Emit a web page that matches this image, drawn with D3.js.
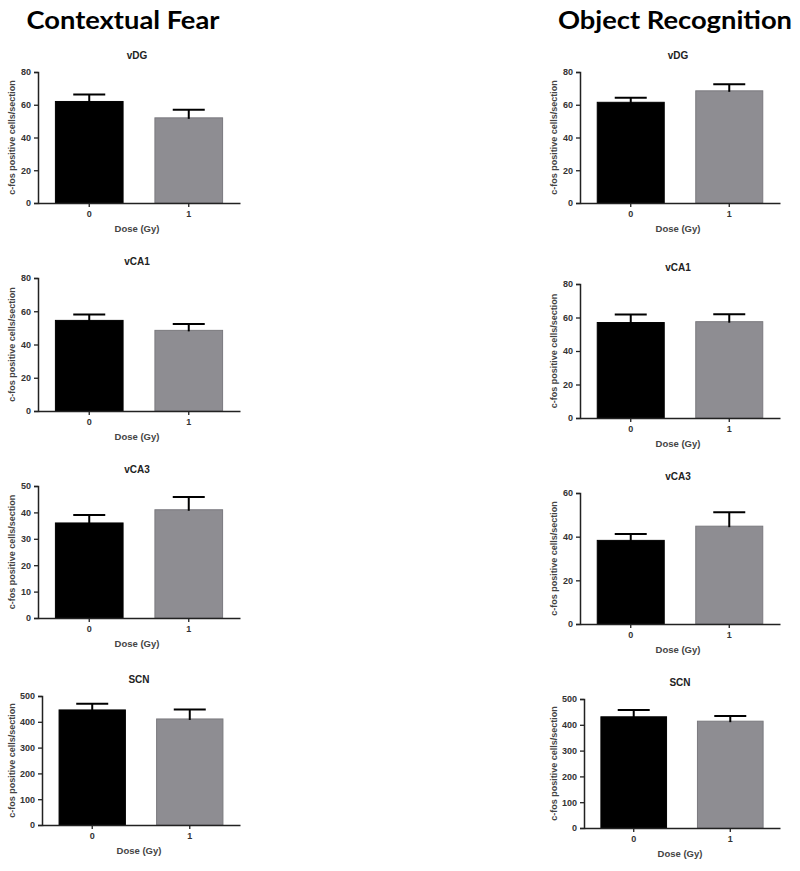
<!DOCTYPE html>
<html>
<head>
<meta charset="utf-8">
<script src="https://cdn.jsdelivr.net/npm/d3@7"></script>
<style>
  html, body { margin: 0; padding: 0; background: #fff; }
  svg { display: block; }
</style>
</head>
<body>
<svg id="chart" width="800" height="871"></svg>
<script>
// ---- data ----
const doses = ["0", "1"];
const regions = ["vDG", "vCA1", "vCA3", "SCN"];
const columnTitles = ["Contextual Fear", "Object Recognition"];

const fearMeans = [[62, 52], [54.5, 48.5], [36, 41], [446, 411]];
const fearSEM   = [[4.2, 5], [3.5, 3.8], [3, 4.8], [24, 37]];
const fearYMax  = [80, 80, 50, 500];
const fearTicks = [[0, 20, 40, 60, 80], [0, 20, 40, 60, 80], [0, 10, 20, 30, 40, 50], [0, 100, 200, 300, 400, 500]];

const objMeans = [[61.5, 68.5], [57, 57.5], [38.3, 44.8], [431, 414]];
const objSEM   = [[2.7, 4], [4.8, 4.5], [2.9, 6.4], [26, 20]];
const objYMax  = [80, 80, 60, 500];
const objTicks = [[0, 20, 40, 60, 80], [0, 20, 40, 60, 80], [0, 20, 40, 60], [0, 100, 200, 300, 400, 500]];

const yLabel = "c-fos positive cells/section";
const xLabel = "Dose (Gy)";
const barColors = ["#000000", "#8e8d92"];

// ---- layout (pixel geometry, not data) ----
const columns = [
  { title: columnTitles[0], titleX: 123, titleW: 193, means: fearMeans, sem: fearSEM, ymax: fearYMax, ticks: fearTicks,
    axisX: [38, 38, 38, 42], xEnd: 240, labelX: 13,
    yTop: [72, 278, 486, 696], yBot: [203, 411, 618, 825] },
  { title: columnTitles[1], titleX: 675, titleW: 234, means: objMeans, sem: objSEM, ymax: objYMax, ticks: objTicks,
    axisX: [580, 580, 580, 584], xEnd: 780, labelX: 555,
    yTop: [72, 284, 493, 699], yBot: [203, 418, 624, 828] }
];

const svg = d3.select("#chart");
const sans = "Liberation Sans, Arial, sans-serif";

columns.forEach(col => {
  svg.append("text")
    .attr("x", col.titleX).attr("y", 29)
    .attr("text-anchor", "middle")
    .attr("font-family", "Lato, 'Open Sans', sans-serif")
    .attr("font-weight", "bold")
    .attr("font-size", 25)
    .attr("textLength", col.titleW)
    .attr("lengthAdjust", "spacingAndGlyphs")
    .attr("fill", "#000")
    .text(col.title);

  regions.forEach((reg, i) => {
    const ax = col.axisX[i];
    const y = d3.scaleLinear().domain([0, col.ymax[i]]).range([col.yBot[i], col.yTop[i]]);
    const x = d3.scaleBand().domain(doses).range([ax, col.xEnd]).paddingInner(0.32).paddingOuter(0.175);
    const g = svg.append("g");

    // panel title
    g.append("text")
      .attr("x", (ax + col.xEnd) / 2 - 2).attr("y", col.yTop[i] - 13)
      .attr("text-anchor", "middle")
      .attr("font-family", sans)
      .attr("font-weight", "bold").attr("font-size", 10)
      .attr("fill", "#222")
      .text(reg);

    // bars
    g.selectAll("rect.bar").data(doses).enter().append("rect")
      .attr("class", "bar")
      .attr("x", d => x(d))
      .attr("width", x.bandwidth())
      .attr("y", (d, j) => y(col.means[i][j]))
      .attr("height", (d, j) => y(0) - y(col.means[i][j]))
      .attr("fill", (d, j) => barColors[j])
      .attr("stroke", (d, j) => j === 0 ? "#000" : "#7a797e")
      .attr("stroke-width", 1);

    // error bars (upper only)
    const eb = g.selectAll("g.err").data(doses).enter().append("g").attr("class", "err");
    eb.append("line")
      .attr("x1", d => x(d) + x.bandwidth() / 2)
      .attr("x2", d => x(d) + x.bandwidth() / 2)
      .attr("y1", (d, j) => y(col.means[i][j]) + 1)
      .attr("y2", (d, j) => y(col.means[i][j] + col.sem[i][j]))
      .attr("stroke", "#000").attr("stroke-width", 2);
    eb.append("line")
      .attr("x1", d => x(d) + x.bandwidth() / 2 - 16)
      .attr("x2", d => x(d) + x.bandwidth() / 2 + 16)
      .attr("y1", (d, j) => y(col.means[i][j] + col.sem[i][j]))
      .attr("y2", (d, j) => y(col.means[i][j] + col.sem[i][j]))
      .attr("stroke", "#000").attr("stroke-width", 2);

    // y axis
    const yAxis = g.append("g")
      .attr("transform", `translate(${ax},0)`)
      .call(d3.axisLeft(y).tickValues(col.ticks[i]).tickSize(4).tickPadding(3));
    yAxis.select(".domain").attr("stroke", "#222").attr("stroke-width", 1.5);
    yAxis.selectAll(".tick line").attr("stroke", "#222").attr("stroke-width", 1.3);
    yAxis.selectAll(".tick text")
      .attr("font-family", sans)
      .attr("font-weight", "bold").attr("font-size", 9).attr("fill", "#333");

    // x axis
    const xAxis = g.append("g")
      .attr("transform", `translate(0,${y(0)})`)
      .call(d3.axisBottom(x).tickSize(4).tickSizeOuter(0).tickPadding(4));
    xAxis.select(".domain").attr("stroke", "#222").attr("stroke-width", 1.5);
    xAxis.selectAll(".tick line").attr("stroke", "#222").attr("stroke-width", 1.3);
    xAxis.selectAll(".tick text")
      .attr("font-family", sans)
      .attr("font-weight", "bold").attr("font-size", 9).attr("fill", "#333");

    // axis labels
    g.append("text")
      .attr("transform", `translate(${col.labelX},${(col.yTop[i] + col.yBot[i]) / 2}) rotate(-90)`)
      .attr("text-anchor", "middle")
      .attr("dominant-baseline", "middle")
      .attr("font-family", sans)
      .attr("font-weight", "bold")
      .attr("font-size", 9).attr("fill", "#444")
      .text(yLabel);

    g.append("text")
      .attr("x", (ax + col.xEnd) / 2 - 2).attr("y", col.yBot[i] + 29)
      .attr("text-anchor", "middle")
      .attr("font-family", sans)
      .attr("font-weight", "bold")
      .attr("font-size", 9.5).attr("fill", "#444")
      .text(xLabel);
  });
});
</script>
</body>
</html>
